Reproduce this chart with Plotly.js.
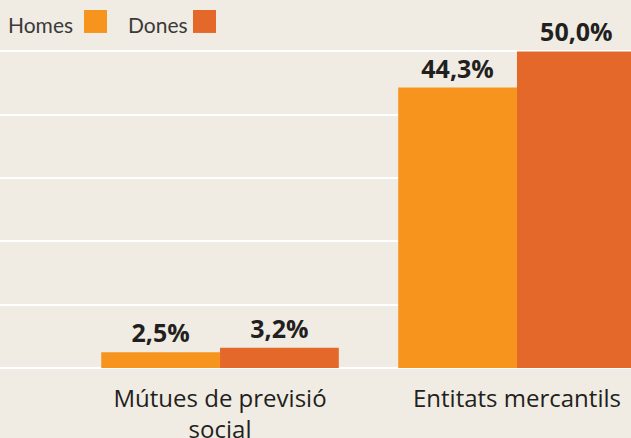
<!DOCTYPE html>
<html><head><meta charset="utf-8">
<script src="https://cdn.plot.ly/plotly-3.0.1.min.js"></script>
<style>html,body{margin:0;padding:0;background:#f0ece3;}#chart{width:631px;height:438px;}</style>
</head><body><div id="chart"></div>
<script>
const categories = ["Mútues de previsió<br>social", "Entitats mercantils"];
const seriesNames = ["Homes", "Dones"];
const homesValues = [2.5, 44.3];
const donesValues = [3.2, 50.0];
const colors = ["#f7941d", "#e5682b"];

const bg = "#f0ece3";
const labelFont = {family: "Open Sans", size: 25, color: "#231f20", weight: 700};

function barTrace(name, vals, color) {
  return {
    type: "bar", name: name, x: categories, y: vals,
    marker: {color: color, line: {width: 0}},
    texttemplate: "<b>%{y:.1f}%</b>", textposition: "outside",
    textfont: labelFont, cliponaxis: false, hoverinfo: "skip"
  };
}

const traces = [
  barTrace(seriesNames[0], homesValues, colors[0]),
  barTrace(seriesNames[1], donesValues, colors[1])
];

// legend drawn as text followed by a colored square (as in the reference)
const plotH = 368.5;
const legY = 1 - 21.5 / plotH;
const sq = 23 / plotH;
const legFont = {family: "Lato", size: 21, color: "#3a3a3a"};
const annotations = [
  {xref: "paper", yref: "paper", x: 6 / 631, y: legY, xanchor: "left", yanchor: "middle", yshift: -3,
   text: seriesNames[0], showarrow: false, font: legFont},
  {xref: "paper", yref: "paper", x: 126 / 631, y: legY, xanchor: "left", yanchor: "middle", yshift: -3,
   text: seriesNames[1], showarrow: false, font: legFont}
];
const shapes = [
  {type: "rect", xref: "paper", yref: "paper", x0: 84 / 631, x1: 107 / 631, y0: legY - sq / 2, y1: legY + sq / 2,
   fillcolor: colors[0], line: {width: 0}},
  {type: "rect", xref: "paper", yref: "paper", x0: 193 / 631, x1: 216 / 631, y0: legY - sq / 2, y1: legY + sq / 2,
   fillcolor: colors[1], line: {width: 0}}
];

const layout = {
  width: 631, height: 438,
  margin: {l: 0, r: 0, t: 0, b: 438 - plotH, pad: 0},
  paper_bgcolor: bg, plot_bgcolor: bg,
  separators: ",.",
  showlegend: false,
  barmode: "group", bargap: 0.2, bargroupgap: 0,
  xaxis: {
    type: "category", range: [-0.741, 1.384], showgrid: false, zeroline: false,
    showline: false, ticks: "", ticklabelstandoff: 14,
    tickfont: {family: "Open Sans", size: 24, color: "#231f20"}, fixedrange: true
  },
  yaxis: {
    range: [0, plotH / 6.34], dtick: 10, tick0: 0, showticklabels: false,
    showgrid: true, gridcolor: "#ffffff", gridwidth: 2,
    zeroline: true, zerolinecolor: "#ffffff", zerolinewidth: 2,
    showline: false, ticks: "", fixedrange: true
  },
  annotations: annotations, shapes: shapes,
  font: {family: "Open Sans"}
};

Plotly.newPlot("chart", traces, layout, {displayModeBar: false, staticPlot: true});
</script></body></html>
